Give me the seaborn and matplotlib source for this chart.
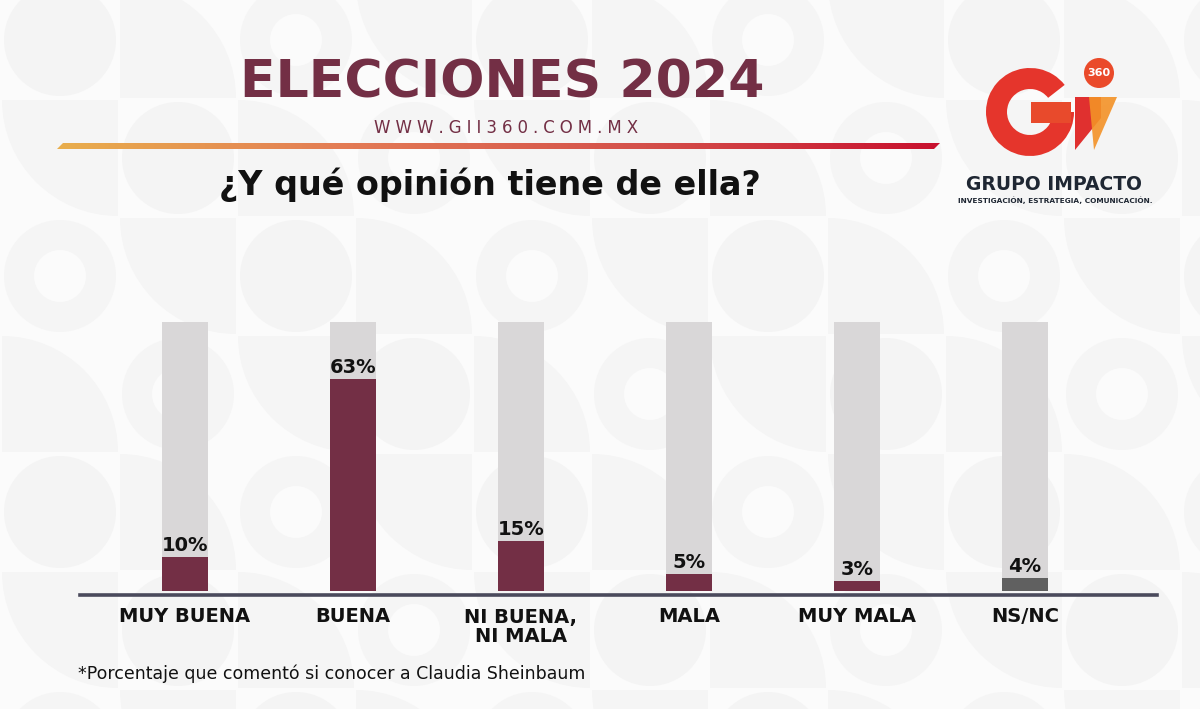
import numpy as np
import pandas as pd
import matplotlib
matplotlib.use("Agg")
import matplotlib.pyplot as plt
import seaborn as sns
from matplotlib.patches import Circle, Wedge, Polygon, Rectangle

# ---------------- data ----------------
categories = ["MUY BUENA", "BUENA", "NI BUENA,\nNI MALA", "MALA", "MUY MALA", "NS/NC"]
values = [10, 63, 15, 5, 3, 4]
value_labels = ["10%", "63%", "15%", "5%", "3%", "4%"]
track_values = [80, 80, 80, 80, 80, 80]

title = "ELECCIONES 2024"
website = "WWW.GII360.COM.MX"
question = "¿Y qué opinión tiene de ella?"
footnote = "*Porcentaje que comentó si conocer a Claudia Sheinbaum"

MAROON = "#732F45"
TRACK = "#D9D7D8"
NSNC = "#606060"
bar_colors = {c: (NSNC if c == "NS/NC" else MAROON) for c in categories}

sns.set_theme(style="white")
plt.rcParams["font.family"] = ["DejaVu Sans"]

W, H = 1200, 709
fig = plt.figure(figsize=(12, 7.09), dpi=100, facecolor="#FFFFFF")

# ---------------- background pattern ----------------
bg = fig.add_axes([0, 0, 1, 1], zorder=0)
bg.set_xlim(0, W); bg.set_ylim(H, 0); bg.axis("off")
bg.add_patch(Rectangle((0, 0), W, H, color="#FBFBFB", zorder=0))
step = 118
for r in range(-1, 8):
    for c in range(-1, 12):
        cx, cy = c * step + 60, r * step + 40
        k = (r * 3 + c) % 4
        if k == 0:
            bg.add_patch(Circle((cx, cy), 56, color="#F4F4F4", lw=0))
        elif k == 1:
            bg.add_patch(Wedge((cx - 58, cy + 58), 116, 270, 360, color="#F5F5F5", lw=0))
        elif k == 2:
            bg.add_patch(Circle((cx, cy), 56, color="#F5F5F5", lw=0))
            bg.add_patch(Circle((cx, cy), 26, color="#FBFBFB", lw=0))
        else:
            bg.add_patch(Wedge((cx + 58, cy - 58), 116, 90, 180, color="#F5F5F5", lw=0))

# ---------------- main chart ----------------
left_px, right_px, top_px, bottom_px = 80, 1157, 322, 595
ax = fig.add_axes([left_px / W, (H - bottom_px) / H,
                   (right_px - left_px) / W, (bottom_px - top_px) / H], zorder=1)
ax.set_facecolor("none")

df = pd.DataFrame({"cat": categories, "val": values, "track": track_values})
sns.barplot(data=df, x="cat", y="track", color=TRACK, width=0.274,
            saturation=1, linewidth=0, ax=ax, zorder=1)
sns.barplot(data=df, x="cat", y="val", hue="cat", palette=bar_colors, width=0.274,
            saturation=1, linewidth=0, legend=False, ax=ax, zorder=2)

ax.set_xlim(-0.625, 5.786)
ax.set_ylim(-1.2, 80)
ax.set_xlabel(""); ax.set_ylabel("")
ax.set_yticks([])
for s in ["top", "right", "left"]:
    ax.spines[s].set_visible(False)
ax.spines["bottom"].set_color("#4A4A5C")
ax.spines["bottom"].set_linewidth(2.6)
ax.tick_params(axis="x", length=0, pad=9)
for lab in ax.get_xticklabels():
    lab.set_fontsize(14)
    lab.set_fontweight("bold")
    lab.set_color("#111111")
    lab.set_verticalalignment("top")
    lab.set_linespacing(1.0)

for i, (v, t) in enumerate(zip(values, value_labels)):
    ax.text(i, v + 0.6, t, ha="center", va="bottom", fontsize=14,
            fontweight="bold", color="#111111", zorder=3)

# ---------------- header / logo / footnote ----------------
fg = fig.add_axes([0, 0, 1, 1], zorder=2)
fg.set_xlim(0, W); fg.set_ylim(H, 0); fg.axis("off"); fg.set_facecolor("none")

fg.text(502, 83, title, ha="center", va="center", fontsize=37.5,
        fontweight="heavy", color=MAROON)
fg.text(506, 128, "\u2009\u200a".join(website), ha="center", va="center", fontsize=12,
        color=MAROON)

# gradient rule
grad = np.linspace(0, 1, 512).reshape(1, -1)
cmap = matplotlib.colors.LinearSegmentedColormap.from_list(
    "rule", ["#E9AE4C", "#E37A55", "#D4504A", "#C8102E"])
im = fg.imshow(grad, cmap=cmap, extent=[57, 940, 149, 143], aspect="auto", zorder=3)
clip = Polygon([(63, 143), (940, 143), (934, 149), (57, 149)], closed=True,
               transform=fg.transData, facecolor="none", edgecolor="none")
fg.add_patch(clip)
im.set_clip_path(clip)
fg.set_xlim(0, W); fg.set_ylim(H, 0)

fg.text(490, 185, question, ha="center", va="center", fontsize=24,
        fontweight="bold", color="#111111")

# logo
fg.add_patch(Wedge((1030, 112), 44, 0, 322, width=21, color="#E5352C", lw=0))
fg.add_patch(Rectangle((1031, 102), 40, 21, color="#E84A2C", lw=0))
fg.add_patch(Polygon([(1075, 97), (1101, 97), (1101, 118), (1075, 150)],
                     closed=True, color="#E0302F", lw=0))
fg.add_patch(Polygon([(1089, 97), (1117, 97), (1094, 150)],
                     closed=True, color="#F39227", lw=0, alpha=0.9))
fg.add_patch(Circle((1099, 73), 15, color="#EA4A2A", lw=0))
fg.text(1099, 73.5, "360", ha="center", va="center", fontsize=8,
        fontweight="bold", color="white")
fg.text(1054, 185, "GRUPO IMPACTO", ha="center", va="center", fontsize=13.5,
        fontweight="bold", color="#1F2733")
fg.text(1055, 200, "INVESTIGACIÓN, ESTRATEGIA, COMUNICACIÓN.", ha="center",
        va="center", fontsize=5.3, fontweight="bold", color="#1F2733")

fg.text(78, 674, footnote, ha="left", va="center", fontsize=12.5, color="#111111")

fig.savefig("out.png", dpi=100, facecolor=fig.get_facecolor())
